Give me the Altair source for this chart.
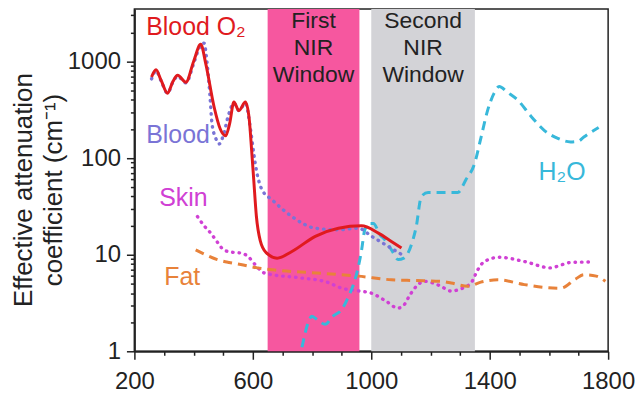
import altair as alt
import pandas as pd

# ---- data (wavelength nm, effective attenuation coefficient cm^-1) ----
blood_o2_nm = [258, 273, 290, 312, 330, 346, 374, 400, 424, 441, 469, 490, 508, 522, 536, 553, 575, 588, 596, 603, 612, 625, 645, 682, 732, 811, 889, 967, 1024, 1068, 1102]
blood_o2_val = [690, 820, 640, 470, 620, 720, 610, 1000, 1510, 950, 340, 200, 170, 230, 380, 310, 380, 250, 120, 60, 25, 14, 10.5, 9.2, 10.8, 15.5, 18.8, 19.9, 16.7, 13.7, 11.7]

blood_nm = [258, 273, 290, 312, 330, 346, 374, 400, 420, 435, 445, 455, 462, 475, 486, 500, 518, 536, 553, 575, 592, 603, 612, 631, 665, 732, 811, 889, 956, 1001, 1057, 1113]
blood_val = [660, 800, 630, 470, 610, 700, 600, 950, 1400, 1550, 1000, 450, 229, 160, 140, 170, 280, 370, 310, 370, 200, 112, 75, 47, 37, 24.8, 18.8, 18.1, 18.8, 15.5, 12.2, 9.6]

skin_nm = [413, 435, 458, 480, 502, 530, 559, 585, 603, 637, 654, 750, 850, 900, 960, 1000, 1050, 1090, 1110, 1130, 1155, 1180, 1230, 1270, 1300, 1337, 1360, 1382, 1432, 1517, 1606, 1640, 1673, 1740]
skin_val = [24.8, 20, 16.7, 13.5, 11.2, 10.6, 10.4, 9.5, 8.2, 6.5, 6.3, 5.8, 5.2, 4.5, 4.2, 4.0, 3.3, 2.8, 3.0, 3.8, 4.8, 5.3, 4.8, 4.2, 4.4, 5.1, 7.0, 8.5, 9.4, 8.5, 7.3, 7.8, 8.3, 8.4]

fat_nm = [407, 440, 480, 520, 559, 615, 682, 800, 900, 956, 1068, 1150, 1236, 1270, 1326, 1370, 1427, 1517, 1580, 1640, 1690, 1718, 1760, 1791]
fat_val = [11.2, 10.0, 8.9, 8.3, 7.9, 7.3, 6.9, 6.5, 6.2, 6.0, 5.5, 5.4, 5.3, 5.1, 4.7, 5.2, 5.5, 4.9, 4.6, 4.5, 5.6, 6.2, 6.0, 5.3]

water_nm = [766, 785, 799, 820, 844, 870, 900, 925, 945, 967, 978, 992, 1007, 1030, 1046, 1070, 1091, 1110, 1124, 1140, 1152, 1169, 1192, 1292, 1320, 1349, 1370, 1393, 1415, 1432, 1460, 1494, 1540, 1584, 1630, 1673, 1700, 1718, 1768]
water_val = [1.1, 1.9, 2.3, 2.1, 1.9, 2.3, 2.7, 3.8, 5.5, 11, 18, 21, 21, 16, 14.3, 11, 8.9, 9.2, 10.4, 14, 19.6, 40, 44, 44, 60, 88, 160, 312, 470, 550, 480, 400, 270, 194, 160, 147, 150, 165, 207]

window_names = ["First\nNIR\nWindow", "Second\nNIR\nWindow"]
window_start = [650, 1000]
window_end = [960, 1350]

x_ticks = list(range(200, 1801, 100))
y_ticks = [1, 2, 3, 4, 5, 6, 7, 8, 9, 10, 20, 30, 40, 50, 60, 70, 80, 90,
           100, 200, 300, 400, 500, 600, 700, 800, 900, 1000, 2000, 3000]

label_text = ["Blood O\u2082", "Blood", "Skin", "Fat", "H\u2082O"]
label_nm = [240, 240, 284, 301, 1565]
label_val = [2300, 173, 39, 5.8, 72]
label_color = ["#E01A1E", "#7A74D6", "#D040D4", "#E8823A", "#38B8DA"]

FONT = "Liberation Sans"
W, H = 476, 344

xscale = alt.Scale(domain=[200, 1800], nice=False, zero=False)
yscale = alt.Scale(type="log", domain=[1, 3500], nice=False)

MAJ_X = "(datum.value - 200) % 400 == 0"
MAJ_Y = "(datum.value == 1 || datum.value == 10 || datum.value == 100 || datum.value == 1000)"

xaxis = alt.Axis(values=x_ticks, format="d", title=None,
                 labelExpr=MAJ_X + " ? datum.label : ''",
                 tickSize={"condition": {"test": MAJ_X, "value": 8}, "value": 4},
                 labelFontSize=24, labelFont=FONT, labelColor="#222", labelPadding=10,
                 labelFlush=False, labelOverlap=False,
                 tickColor="#222", tickWidth=1.5, domainColor="#222", domainWidth=2, grid=False)
yaxis = alt.Axis(values=y_ticks, format="d", title=None,
                 labelExpr=MAJ_Y + " ? datum.label : ''",
                 tickSize={"condition": {"test": MAJ_Y, "value": 8}, "value": 4},
                 labelFontSize=24, labelFont=FONT, labelColor="#222", labelPadding=6,
                 labelFlush=False, labelOverlap=False,
                 tickColor="#222", tickWidth=1.5, domainColor="#222", domainWidth=2, grid=False)

win_df = pd.DataFrame({"name": window_names, "start": window_start, "end": window_end,
                       "mid": [(a + b) / 2 for a, b in zip(window_start, window_end)]})

rects = alt.Chart(win_df).mark_rect(opacity=1).encode(
    x=alt.X("start:Q", scale=xscale, axis=xaxis),
    x2="end:Q",
    color=alt.Color("name:N", scale=alt.Scale(domain=window_names, range=["#F6579F", "#D3D3D7"]), legend=None),
)

win_text = alt.Chart(win_df).mark_text(
    fontSize=23, font=FONT, color="#222", baseline="top", align="center", lineBreak="\n", lineHeight=27
).encode(
    x=alt.X("mid:Q", scale=xscale, axis=xaxis),
    y=alt.value(1),
    text="name:N",
)


def series(nm, val, color, dash=None, width=3.0, cap="butt"):
    df = pd.DataFrame({"nm": nm, "val": val})
    kw = dict(color=color, strokeWidth=width, interpolate="monotone", strokeCap=cap, clip=True)
    if dash:
        kw["strokeDash"] = dash
    return alt.Chart(df).mark_line(**kw).encode(
        x=alt.X("nm:Q", scale=xscale, axis=xaxis),
        y=alt.Y("val:Q", scale=yscale, axis=yaxis),
    )


skin = series(skin_nm, skin_val, "#D040D4", dash=[0.5, 6], width=3.4, cap="round")
fat = series(fat_nm, fat_val, "#E8823A", dash=[9, 6], width=3)
water = series(water_nm, water_val, "#38B8DA", dash=[9, 6], width=3)
blood = series(blood_nm, blood_val, "#7A74D6", dash=[0.5, 6], width=3.4, cap="round")
blood_o2 = series(blood_o2_nm, blood_o2_val, "#E01A1E", width=3)

lab_df = pd.DataFrame({"t": label_text, "nm": label_nm, "val": label_val, "c": label_color})
labels = alt.Chart(lab_df).mark_text(fontSize=25, font=FONT, align="left", baseline="middle").encode(
    x=alt.X("nm:Q", scale=xscale, axis=xaxis),
    y=alt.Y("val:Q", scale=yscale, axis=yaxis),
    text="t:N",
    color=alt.Color("c:N", scale=None),
)

ytitle1 = alt.Chart(pd.DataFrame({"t": ["Effective attenuation"]})).mark_text(
    fontSize=26, font=FONT, color="#222", angle=270, align="center", baseline="middle"
).encode(x=alt.value(-111), y=alt.value(182), text="t:N")
ytitle2 = alt.Chart(pd.DataFrame({"t": ["coefficient  (cm\u207b\u00b9)"]})).mark_text(
    fontSize=26, font=FONT, color="#222", angle=270, align="center", baseline="middle"
).encode(x=alt.value(-81), y=alt.value(182), text="t:N")

chart = alt.layer(
    rects, win_text, skin, fat, water, blood, blood_o2, labels, ytitle1, ytitle2
).properties(
    width=W, height=H,
    padding={"left": 127, "top": 0, "right": 27, "bottom": 44},
    autosize=alt.AutoSizeParams(type="none"),
).configure_view(stroke="#222", strokeWidth=1.5)

chart.save("out.html", embed_options={"renderer": "svg", "actions": False})
